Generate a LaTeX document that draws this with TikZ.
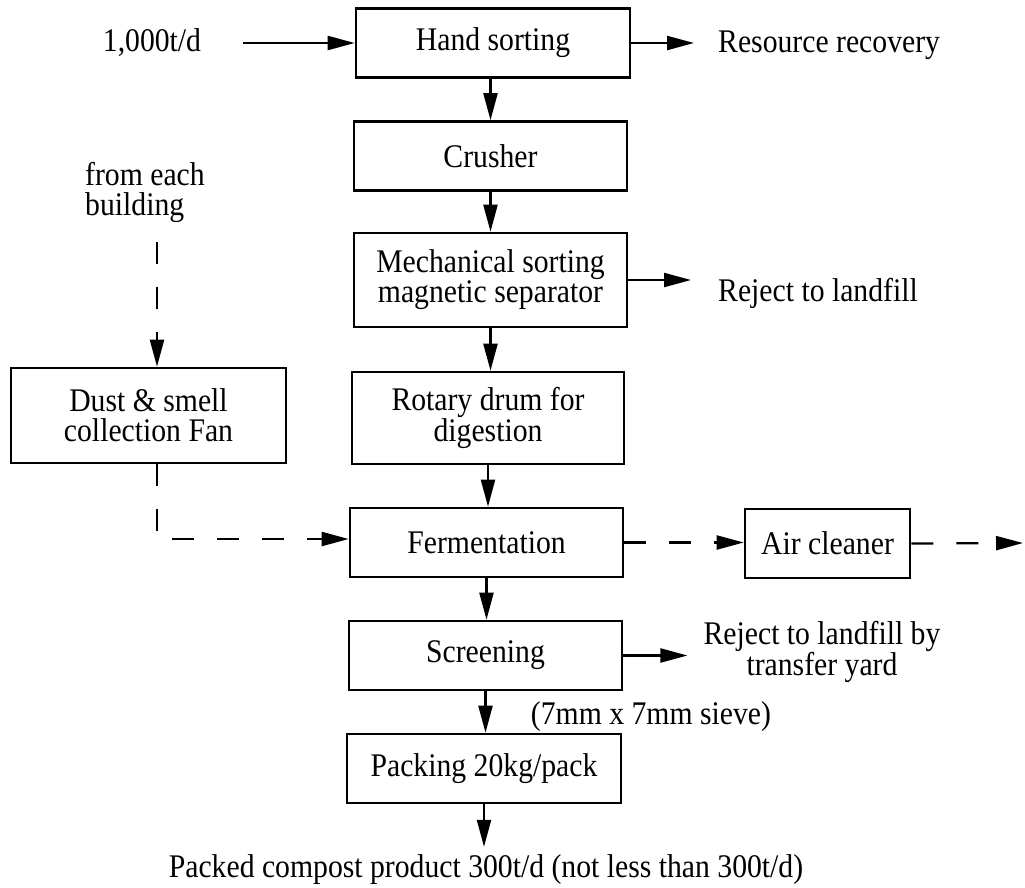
\documentclass[tikz,border=0pt]{standalone}
\usepackage{fontspec}
\setmainfont{Liberation Serif}[FakeStretch=0.9]
\usetikzlibrary{arrows.meta}
\begin{document}
\begin{tikzpicture}[x=1pt,y=-1pt,
  every node/.style={font=\fontsize{33}{30}\selectfont, inner sep=0pt},
  stage/.style={draw, line width=2.6pt, minimum height=69pt, align=center},
  flow/.style={line width=2.2pt, -{Triangle[length=27pt,width=14pt]}},
  airflow/.style={flow, dash pattern=on 22pt off 23pt},
  note/.style={align=center}]
\useasboundingbox (0,0) rectangle (1025,887);

% process stages
\node[stage, minimum width=274pt] (hand) at (493,43) {Hand sorting};
\node[stage, minimum width=273pt] (crusher) at (490.5,156) {Crusher};
\node[stage, minimum width=273pt, minimum height=94pt] (mech) at (490.5,280) {Mechanical sorting\\magnetic separator};
\node[stage, minimum width=272pt, minimum height=92pt] (drum) at (488,418) {Rotary drum for\\digestion};
\node[stage, minimum width=275pt, minimum height=95pt] (dust) at (148.5,415.5) {Dust \& smell\\collection Fan};
\node[stage, minimum width=273pt] (ferm) at (486.5,542.5) {Fermentation};
\node[stage, minimum width=165pt] (air) at (827.5,543.5) {Air cleaner};
\node[stage, minimum width=273pt] (screen) at (485.5,655.5) {Screening};
\node[stage, minimum width=274pt] (pack) at (484,768.5) {Packing 20kg/pack};

% inputs, outputs and notes
\node (feed) at (152,43) {1,000t/d};
\node[anchor=west] (res) at (718,45) {Resource recovery};
\node[anchor=west, align=left] (bld) at (85,192) {from each\\building};
\node[anchor=west] (rej1) at (718,293) {Reject to landfill};
\node[note] (rej2) at (822,652) {Reject to landfill by\\transfer yard};
\node (sieve) at (651,717) {(7mm x 7mm sieve)};
\node (prod) at (486,870) {Packed compost product 300t/d (not less than 300t/d)};

% main material flow
\draw[flow] ([xshift=42pt]feed.east) -- (hand.west);
\draw[flow] (hand.east) -- ([xshift=-24pt]res.west |- hand.east);
\draw[flow] (crusher.north |- hand.south) -- (crusher.north);
\draw[flow] (crusher.south) -- (mech.north -| crusher.south);
\draw[flow] (mech.south) -- (drum.north -| mech.south);
\draw[flow] (mech.east) -- ([xshift=-27pt]rej1.west |- mech.east);
\draw[flow] (drum.south) -- (ferm.north -| drum.south);
\draw[flow] (ferm.south) -- (screen.north -| ferm.south);
\draw[flow] (screen.east) -- ([xshift=-16pt]rej2.west |- screen.east);
\draw[flow] (screen.south) -- (pack.north -| screen.south);
\draw[flow] (pack.south) -- ([yshift=8pt]prod.north -| pack.south);

% air / odour path
\coordinate (drop) at (157,242);
\coordinate (turn) at (157,539);
\coordinate (vent) at (1023,543);
\draw[airflow] (drop) -- (drop |- dust.north);
\draw[airflow] (dust.south -| turn) -- (turn) -- (turn -| ferm.west);
\draw[airflow] (ferm.east) -- (ferm.east -| air.west);
\draw[airflow] (air.east) -- (vent);
\end{tikzpicture}
\end{document}
